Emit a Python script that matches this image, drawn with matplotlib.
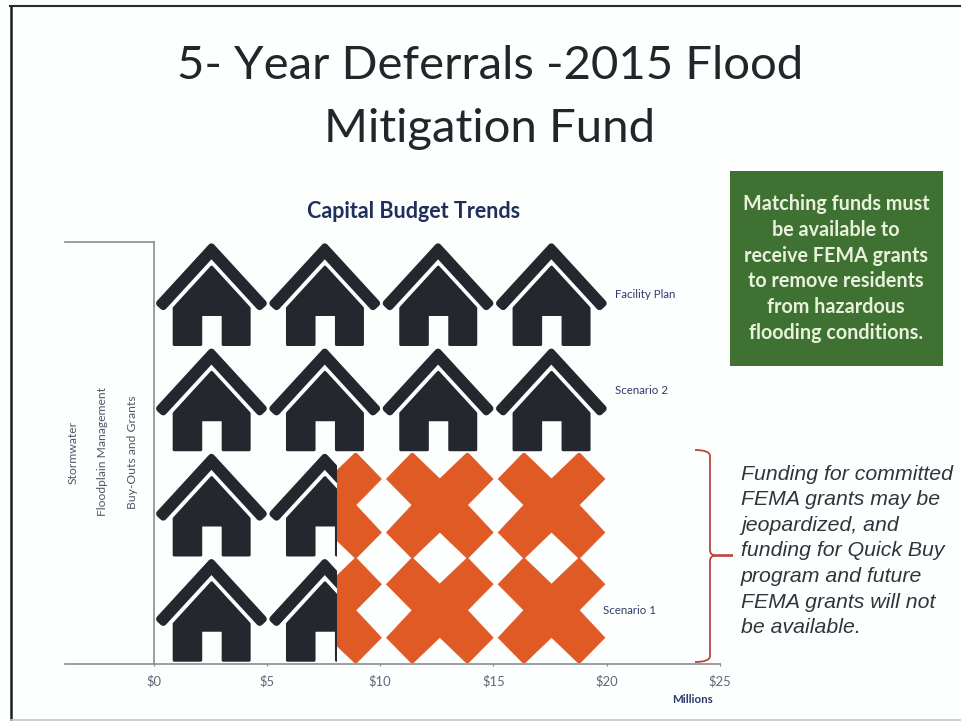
import matplotlib
matplotlib.use("Agg")
import matplotlib.pyplot as plt
from matplotlib.patches import PathPatch, Rectangle
from matplotlib.path import Path
from matplotlib.transforms import Affine2D

W, H = 961, 721

# Budget rows, listed bottom to top, in millions of dollars
row_labels = ["Scenario 1", "", "Scenario 2", "Facility Plan"]
funded = [8.1, 8.1, 20, 20]
deferred = [11.9, 11.9, 0, 0]
group_labels = ["Stormwater", "Floodplain Management", "Buy-Outs and Grants"]
x_ticks = [0, 5, 10, 15, 20, 25]
house_value = 5  # one house stands for this many millions
cross_value = 4.93  # crosses tile slightly tighter, running back from the bar end
cross_origin = 0.31

title_lines = ["5- Year Deferrals -2015 Flood", "Mitigation Fund"]
chart_title = "Capital Budget Trends"
green_note = ["Matching funds must", "be available to", "receive FEMA grants",
              "to remove residents", "from hazardous", "flooding conditions."]
risk_note = ["Funding for committed", "FEMA grants may be", "jeopardized, and",
             "funding for Quick Buy", "program and future",
             "FEMA grants will not", "be available."]

DARK = "#24282e"
ORANGE = "#df5a24"
GREEN = "#3f7232"
RED = "#b8453c"
TICK = "#5c6878"
NAVY = "#2f3a6e"
AXIS = "#8a8f96"

fig = plt.figure(figsize=(W / 100, H / 100), dpi=100, facecolor="#fdfefe")


def px_rect(x0, y0, x1, y1):
    return [x0 / W, 1 - y1 / H, (x1 - x0) / W, (y1 - y0) / H]


def fx(x):
    return x / W


def fy(y):
    return 1 - y / H


ax = fig.add_axes(px_rect(153.5, 242, 720, 663))
ax.set_xlim(0, 25)
ax.set_ylim(0, 4)
ax.patch.set_alpha(0)

UX = 113.3  # pixels per icon cell, horizontally
UY = 105.25  # pixels per row


def cell_path(points):
    # points are pixel offsets from the cell's top centre, mapped to 0..1 cell units
    verts = [(0.5 + x / UX, 1 - y / UY) for x, y in points]
    verts.append(verts[0])
    codes = [Path.MOVETO] + [Path.LINETO] * (len(points) - 1) + [Path.CLOSEPOLY]
    return Path(verts, codes)


roof = cell_path([(1.3, 4.8), (53.2, 61.3), (49.5, 64.7), (1.3, 12.2),
                  (-46.9, 64.7), (-50.6, 61.3)])
body = cell_path([(1.5, 25), (39.1, 66), (39.1, 102.6), (12.9, 102.6), (12.9, 72.6),
                  (-9.3, 72.6), (-9.3, 102.6), (-36.1, 102.6), (-36.1, 66)])
cross = cell_path([(-28, 0), (0, 26.5), (28, 0), (54, 26.5), (28, 52.5), (54, 80),
                   (28, 106), (0, 79.5), (-28, 106), (-54, 80), (-28, 52.5), (-54, 26.5)])


def fill_icons(row, start, width, layers, color, pitch, origin):
    """Tile icons along a row and clip them to the bar that holds the value."""
    if width <= 0:
        return
    bar = ax.barh(row + 0.5, width, left=start, height=1.0, color="none",
                  edgecolor="none")[0]
    k = 0
    while origin + k * pitch < start + width - 1e-6:
        left = origin + k * pitch
        k += 1
        if left + pitch <= start:
            continue
        place = Affine2D().scale(pitch, 1).translate(left, row) + ax.transData
        for path, stroke in layers:
            patch = PathPatch(path, transform=place, facecolor=color, edgecolor=color,
                              lw=stroke, joinstyle="round", clip_on=True)
            ax.add_patch(patch)
            patch.set_clip_path(bar)


for r in range(len(funded)):
    fill_icons(r, 0, funded[r], [(roof, 5.0), (body, 2.0)], DARK, house_value, 0)
    fill_icons(r, funded[r], deferred[r], [(cross, 0.6)], ORANGE, cross_value, cross_origin)

# Axis frame: lines stretch left past zero into the label gutter
for side in ["top", "right", "bottom", "left"]:
    ax.spines[side].set_visible(False)
ax.set_xticks(x_ticks)
ax.set_xticklabels([f"${v}" for v in x_ticks], fontsize=9.4, color=TICK, family="Lato")
ax.tick_params(axis="x", length=2.5, width=0.9, color=AXIS, pad=6)
ax.set_yticks([])

line_kw = dict(transform=fig.transFigure, color=AXIS, lw=1.2, clip_on=False)
ax.plot([fx(65), fx(720)], [fy(663.5)] * 2, **line_kw)
ax.plot([fx(65), fx(153.5)], [fy(242)] * 2, **line_kw)
ax.plot([fx(153.5)] * 2, [fy(242), fy(663.5)], **line_kw)

# Row captions beside the icons
row_text_kw = dict(color=NAVY, fontsize=8.3, family="Lato", va="center", ha="left")
ax.text(20.37, 3.5, row_labels[3], **row_text_kw)
ax.text(20.37, 2.59, row_labels[2], **row_text_kw)
ax.text(19.84, 0.5, row_labels[0], **row_text_kw)
ax.text(22.9, -0.35, "Millions", color=NAVY, fontsize=8.3, family="Lato",
        fontweight="bold", ha="left", va="center")

# Rotated group captions
for x, label in zip([73, 103, 133], group_labels):
    fig.text(fx(x), fy(452), label, rotation=90, color="#4d5a66", fontsize=8.7,
             family="Lato", ha="center", va="center")

# Headings
for y, line in zip([66, 129], title_lines):
    fig.text(fx(490), fy(y), line, fontsize=34, family="Lato", color="#22262a",
             ha="center", va="center")
fig.text(fx(414), fy(211), chart_title, fontsize=15.5, family="Lato", color="#1f2f5c",
         ha="center", va="center", fontweight="bold")

# Green call-out
fig.add_artist(Rectangle((fx(730), fy(366)), 213 / W, 195 / H, transform=fig.transFigure,
                         facecolor=GREEN, edgecolor="none"))
for i, line in enumerate(green_note):
    fig.text(fx(836), fy(204 + i * 25.8), line, fontsize=14.2, family="Lato",
             color="#e9f1dc", ha="center", va="center", fontweight="bold")

# Brace tying the deferred rows to the note
bx = 710
brace = Path(
    [(fx(695), fy(450)), (fx(bx), fy(450)), (fx(bx), fy(456)),
     (fx(bx), fy(550)), (fx(bx), fy(555.5)), (fx(bx + 6), fy(555.5)),
     (fx(733), fy(555.5)), (fx(bx + 6), fy(555.5)), (fx(bx), fy(555.5)), (fx(bx), fy(561)),
     (fx(bx), fy(656)), (fx(bx), fy(662)), (fx(695), fy(662))],
    [Path.MOVETO, Path.CURVE3, Path.CURVE3,
     Path.LINETO, Path.CURVE3, Path.CURVE3,
     Path.LINETO, Path.LINETO, Path.CURVE3, Path.CURVE3,
     Path.LINETO, Path.CURVE3, Path.CURVE3])
fig.add_artist(PathPatch(brace, transform=fig.transFigure, facecolor="none",
                         edgecolor=RED, lw=1.3))

for i, line in enumerate(risk_note):
    fig.text(fx(741), fy(474 + i * 25.6), line, fontsize=15.3, family="Liberation Sans",
             style="italic", color="#30343c", ha="left", va="center")

# Slide border: left and top edges heavy, bottom edge faint
border_kw = dict(transform=fig.transFigure, clip_on=False)
fig.add_artist(plt.Line2D([fx(11), fx(11)], [fy(6), fy(721)], color="#1c1f24", lw=1.8, **border_kw))
fig.add_artist(plt.Line2D([fx(10), fx(961)], [fy(6), fy(6)], color="#26292e", lw=1.5, **border_kw))
fig.add_artist(plt.Line2D([fx(11), fx(961)], [fy(720), fy(720)], color="#c4c6c8", lw=1.2, **border_kw))

fig.savefig("out.png", dpi=100, facecolor=fig.get_facecolor())
